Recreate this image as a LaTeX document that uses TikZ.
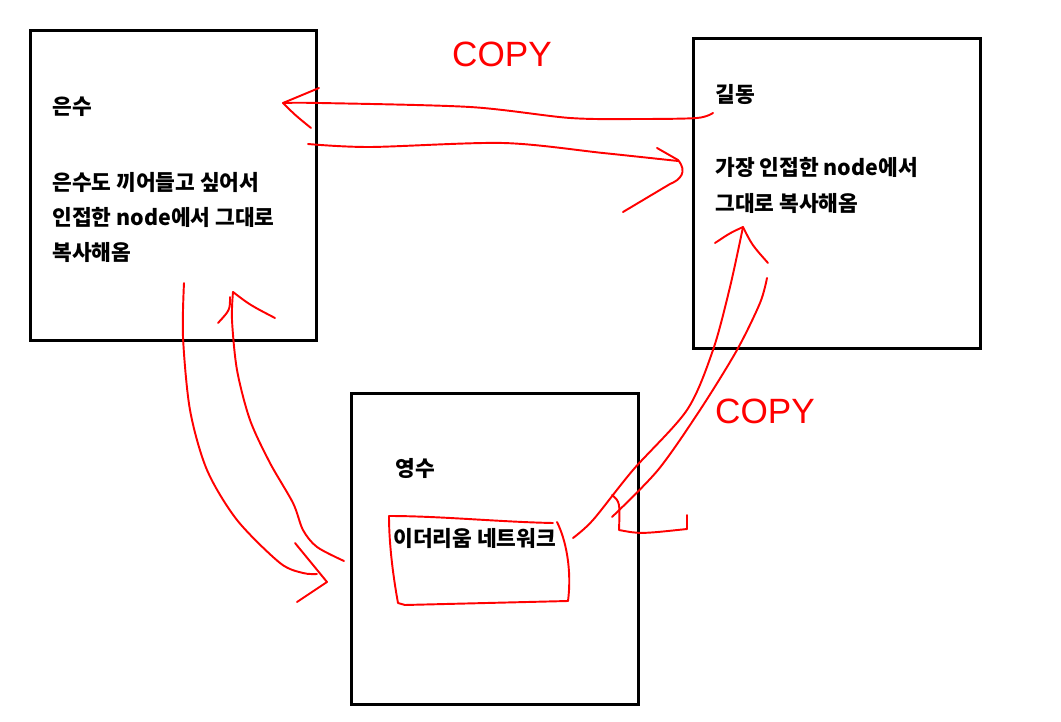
\documentclass[tikz,border=0pt]{standalone}
\usepackage{fontspec}
\setmainfont{Noto Sans CJK KR}
\newfontfamily\copyfont{Liberation Sans}
\usetikzlibrary{positioning}

\begin{document}
\begin{tikzpicture}[x=0.02cm,y=-0.02cm,
  box/.style={draw,line width=1.7pt,minimum width=5.74cm,minimum height=6.22cm,inner sep=0pt},
  txt/.style={anchor=west,inner sep=0pt,font=\fontsize{12.2}{14}\selectfont\bfseries},
  pen/.style={red,line width=1.1pt,line cap=round,line join=round},
  scrawl/.style={red,inner sep=0pt,font=\copyfont\fontsize{20}{20}\selectfont}]
  \fill[white] (0,0) rectangle (1061,722);
  \useasboundingbox (0,0) rectangle (1061,722);

  % the three nodes
  \node[box] (eunsu) at (173.5,185.5) {};
  \node[box] (gildong) at (837,193.5) {};
  \node[box] (youngsu) at (495,549) {};

  \node[txt] (eunsuname) at (52,107) {은수};
  \node[txt] (eunsu1) at (52,182) {은수도 끼어들고 싶어서};
  \node[txt] (eunsu2) at (52,217) {인접한 node에서 그대로};
  \node[txt] (eunsu3) at (52,252) {복사해옴};

  \node[txt] (gildongname) at (715,95) {길동};
  \node[txt] (gildong1) at (715,167) {가장 인접한 node에서};
  \node[txt] (gildong2) at (715,203) {그대로 복사해옴};

  \node[txt] (youngsuname) at (395,468) {영수};
  \node[txt] (net) at (393,538) {이더리움 네트워크};

  % copy labels
  \node[scrawl] (copytop) at (502,54) {COPY};
  \node[scrawl] (copyright) at (765,411) {COPY};

  % gildong -> eunsu
  \draw[pen] plot[smooth] coordinates {(713,113) (697,118) (640,119) (570,118) (470,107) (320,103) (283,103)};
  \draw[pen] (319,88) -- (283,103) .. controls (295,115) .. (311,128);
  % eunsu -> gildong
  \draw[pen] plot[smooth] coordinates {(308,144) (370,147) (503,143) (603,153) (678,161)};
  \draw[pen] (657,148) -- (678,160) .. controls (688,172) and (680,180) .. (670,184) -- (623,212);

  % eunsu -> youngsu
  \draw[pen] plot[smooth] coordinates {(184,283) (183,337) (190,410) (207,470) (237,520) (280,563) (303,573) (317,574)};
  \draw[pen] (295,543) -- (327,582) -- (297,602);
  % youngsu -> eunsu
  \draw[pen] plot[smooth] coordinates {(344,561) (317,547) (303,530) (293,503) (270,463) (250,420) (237,370) (232,320) (233,292)};
  \draw[pen] (233,292) .. controls (250,305) .. (275,318);
  \draw[pen] (230,297) .. controls (230,310) .. (218,323);

  % network scribble
  \draw[pen] (389,516) .. controls (440,516) and (500,522) .. (553,523);
  \draw[pen] (557,522) .. controls (566,540) and (572,570) .. (568,601) -- (405,605) -- (398,603) .. controls (392,570) and (389,540) .. (389,516);

  % youngsu -> gildong
  \draw[pen] plot[smooth] coordinates {(573,538) (593,520) (633,470) (687,410) (713,350) (730,287) (743,227)};
  \draw[pen] (715,243) .. controls (730,233) .. (743,227) .. controls (752,245) .. (768,263);
  % gildong -> youngsu
  \draw[pen] plot[smooth] coordinates {(767,278) (760,303) (737,350) (700,410) (658,470) (612,517)};
  \draw[pen] (612,495) .. controls (620,502) .. (619,530) .. controls (640,534) .. (687,529) -- (687,515);
\end{tikzpicture}
\end{document}
